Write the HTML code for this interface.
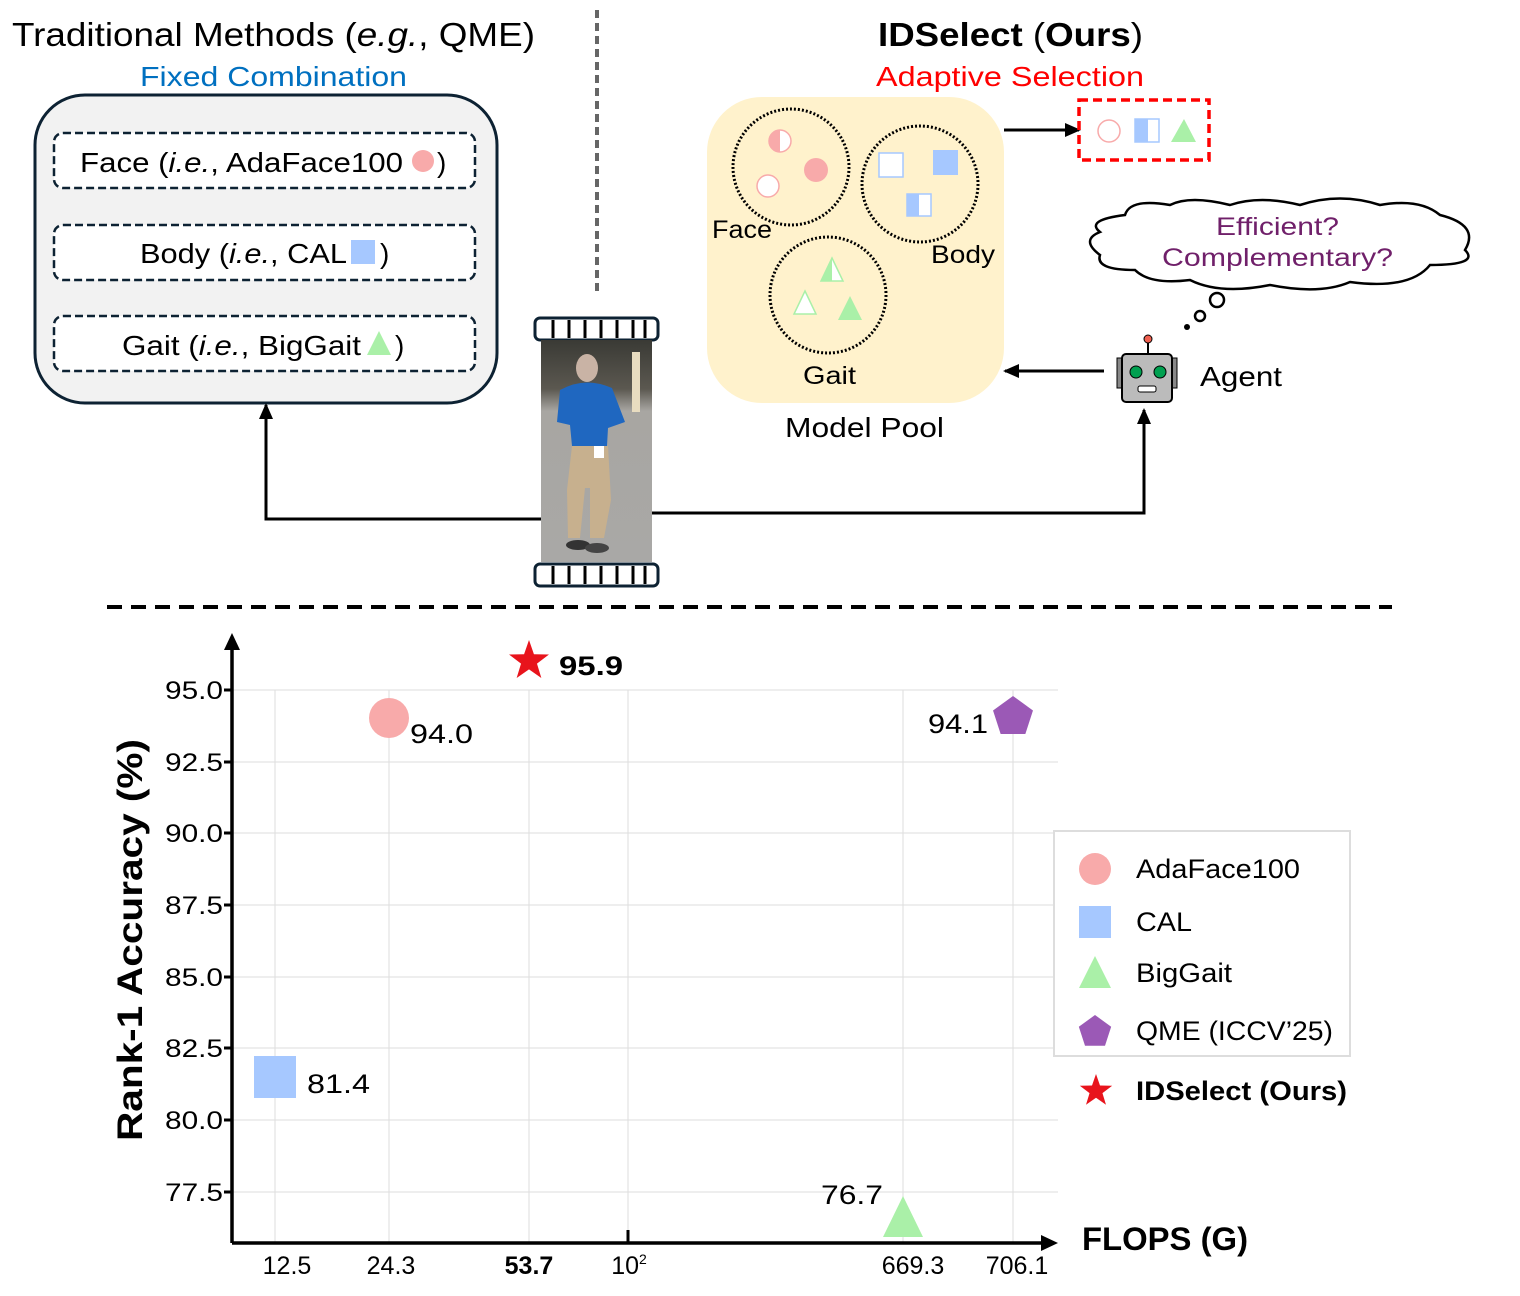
<!DOCTYPE html>
<html><head><meta charset="utf-8"><style>
html,body{margin:0;padding:0;background:#fff}
svg text{font-family:"Liberation Sans","DejaVu Sans",sans-serif}
</style></head><body>
<svg width="1520" height="1291" viewBox="0 0 1520 1291" xmlns="http://www.w3.org/2000/svg">
<defs>
<marker id="ah" markerWidth="18" markerHeight="16" refX="14" refY="8" orient="auto" markerUnits="userSpaceOnUse"><path d="M0,1 L16,8 L0,15 z" fill="#000"/></marker>
<path id="star" d="M0,-1 L0.235,-0.324 L0.951,-0.309 L0.38,0.124 L0.588,0.809 L0,0.4 L-0.588,0.809 L-0.38,0.124 L-0.951,-0.309 L-0.235,-0.324 Z"/>
<path id="pent" d="M0,-1 L0.951,-0.309 L0.588,0.809 L-0.588,0.809 L-0.951,-0.309 Z"/>
<linearGradient id="bg" x1="0" y1="0" x2="0" y2="1"><stop offset="0" stop-color="#3a3a35"/><stop offset="0.22" stop-color="#5b5850"/><stop offset="0.32" stop-color="#a8a6a2"/><stop offset="1" stop-color="#a9a8a6"/></linearGradient>
</defs>

<text x="12" y="46" font-size="33" fill="#000" textLength="523" lengthAdjust="spacingAndGlyphs">Traditional Methods (<tspan font-style="italic">e.g.</tspan>, QME)</text>
<text x="140" y="86" font-size="28" fill="#0070c0" textLength="267" lengthAdjust="spacingAndGlyphs">Fixed Combination</text>
<rect x="35" y="95" width="462" height="308" rx="50" fill="#f2f2f2" stroke="#0d2233" stroke-width="3"/>
<rect x="54" y="133" width="421" height="55" rx="9" fill="#fff" stroke="#0d2233" stroke-width="2.5" stroke-dasharray="8,4"/>
<rect x="54" y="225" width="421" height="55" rx="9" fill="#fff" stroke="#0d2233" stroke-width="2.5" stroke-dasharray="8,4"/>
<rect x="54" y="316" width="421" height="55" rx="9" fill="#fff" stroke="#0d2233" stroke-width="2.5" stroke-dasharray="8,4"/>
<text x="80" y="172" font-size="28" textLength="323" lengthAdjust="spacingAndGlyphs">Face (<tspan font-style="italic">i.e.</tspan>, AdaFace100</text>
<circle cx="423" cy="161" r="11" fill="#f8aaaa"/><text x="437" y="172" font-size="28">)</text>
<text x="140" y="263" font-size="28" textLength="207" lengthAdjust="spacingAndGlyphs">Body (<tspan font-style="italic">i.e.</tspan>, CAL</text>
<rect x="351" y="240" width="24" height="24" fill="#a6c8ff"/><text x="380" y="263" font-size="28">)</text>
<text x="122" y="355" font-size="28" textLength="239" lengthAdjust="spacingAndGlyphs">Gait (<tspan font-style="italic">i.e.</tspan>, BigGait</text>
<polygon points="379,331 391,355 367,355" fill="#aaf0a8"/><text x="395" y="355" font-size="28">)</text>

<line x1="597" y1="10" x2="597" y2="295" stroke="#666" stroke-width="4" stroke-dasharray="8,5"/>

<rect x="535" y="318" width="123" height="22" rx="5" fill="#fff" stroke="#0d2233" stroke-width="3"/>
<rect x="535" y="564" width="123" height="22" rx="5" fill="#fff" stroke="#0d2233" stroke-width="3"/>
<g stroke="#000" stroke-width="3">
<line x1="553" y1="320" x2="553" y2="338"/><line x1="569" y1="320" x2="569" y2="338"/><line x1="585" y1="320" x2="585" y2="338"/><line x1="601" y1="320" x2="601" y2="338"/><line x1="617" y1="320" x2="617" y2="338"/><line x1="633" y1="320" x2="633" y2="338"/><line x1="645" y1="320" x2="645" y2="338"/>
<line x1="553" y1="566" x2="553" y2="584"/><line x1="569" y1="566" x2="569" y2="584"/><line x1="585" y1="566" x2="585" y2="584"/><line x1="601" y1="566" x2="601" y2="584"/><line x1="617" y1="566" x2="617" y2="584"/><line x1="633" y1="566" x2="633" y2="584"/><line x1="645" y1="566" x2="645" y2="584"/>
</g>
<rect x="541" y="340" width="111" height="222" fill="url(#bg)"/>
<rect x="632" y="352" width="8" height="60" fill="#e8dcc0"/>
<ellipse cx="587" cy="368" rx="11" ry="14" fill="#c9b3a5"/>
<path d="M560,390 Q585,376 612,388 L625,422 L608,428 L607,446 L572,446 L570,425 L557,422 Z" fill="#1f67c0"/>
<path d="M572,446 L608,446 L611,500 L604,538 L590,538 L590,488 L585,488 L580,538 L568,538 L567,490 Z" fill="#c7b08e"/>
<rect x="594" y="446" width="10" height="12" fill="#fff"/>
<ellipse cx="578" cy="545" rx="12" ry="5" fill="#333"/><ellipse cx="597" cy="548" rx="12" ry="5" fill="#444"/>

<polyline points="541,519 266,519 266,405" fill="none" stroke="#000" stroke-width="3" marker-end="url(#ah)"/>
<polyline points="652,513 1144,513 1144,410" fill="none" stroke="#000" stroke-width="3" marker-end="url(#ah)"/>

<text x="878" y="46" font-size="33" textLength="265" lengthAdjust="spacingAndGlyphs"><tspan font-weight="bold">IDSelect</tspan> (<tspan font-weight="bold">Ours</tspan>)</text>
<text x="876" y="86" font-size="28" fill="#ff0000" textLength="268" lengthAdjust="spacingAndGlyphs">Adaptive Selection</text>
<rect x="707" y="97" width="297" height="306" rx="55" fill="#fff2cc"/>
<g fill="none" stroke="#000" stroke-width="3" stroke-dasharray="2,2">
<circle cx="791" cy="167" r="58"/><circle cx="920" cy="184" r="58"/><circle cx="828" cy="295" r="58"/>
</g>
<circle cx="780" cy="141" r="11" fill="#fff" stroke="#f8aaaa" stroke-width="1.5"/><path d="M780,130 A11,11 0 0,0 780,152 Z" fill="#f8aaaa"/>
<circle cx="816" cy="170" r="12" fill="#f8aaaa"/>
<circle cx="768" cy="186" r="11" fill="#fff" stroke="#f8aaaa" stroke-width="1.5"/>
<rect x="879" y="153" width="24" height="24" fill="#fff" stroke="#a6c8ff" stroke-width="1.5"/>
<rect x="933" y="150" width="25" height="25" fill="#a6c8ff"/>
<rect x="907" y="194" width="24" height="22" fill="#fff" stroke="#a6c8ff" stroke-width="1.5"/><rect x="907" y="194" width="12" height="22" fill="#a6c8ff"/>
<polygon points="832,258 843,281 821,281" fill="#fff" stroke="#aaf0a8" stroke-width="1.5"/><polygon points="832,258 832,281 821,281" fill="#aaf0a8"/>
<polygon points="805,291 816,314 794,314" fill="#fff" stroke="#aaf0a8" stroke-width="1.5"/>
<polygon points="850,296 862,320 838,320" fill="#aaf0a8"/>
<text x="712" y="238" font-size="25" textLength="60" lengthAdjust="spacingAndGlyphs">Face</text>
<text x="931" y="263" font-size="25" textLength="64" lengthAdjust="spacingAndGlyphs">Body</text>
<text x="803" y="384" font-size="25" textLength="53" lengthAdjust="spacingAndGlyphs">Gait</text>
<text x="785" y="437" font-size="28" textLength="159" lengthAdjust="spacingAndGlyphs">Model Pool</text>
<line x1="1004" y1="130" x2="1079" y2="130" stroke="#000" stroke-width="3" marker-end="url(#ah)"/>
<rect x="1079" y="100" width="130" height="60" fill="none" stroke="#ff0000" stroke-width="3.5" stroke-dasharray="9,5"/>
<circle cx="1109" cy="131" r="11" fill="none" stroke="#f8aaaa" stroke-width="1.5"/>
<rect x="1135" y="119" width="24" height="23" fill="#fff" stroke="#a6c8ff" stroke-width="1.5"/><rect x="1135" y="119" width="13" height="23" fill="#a6c8ff"/>
<polygon points="1184,119 1196,142 1171,142" fill="#aaf0a8"/>
<path d="M1125,215 Q1130,198 1170,205 Q1190,195 1230,205 Q1260,195 1300,205 Q1340,192 1380,205 Q1420,198 1440,215 Q1480,225 1465,250 Q1480,265 1430,265 Q1410,290 1350,282 Q1320,295 1270,285 Q1220,295 1190,280 Q1150,285 1135,270 Q1095,270 1100,255 Q1080,240 1100,232 Q1085,220 1125,215 Z" fill="#fff" stroke="#000" stroke-width="2.5"/>
<text x="1216" y="235" font-size="25" fill="#70206a" textLength="123" lengthAdjust="spacingAndGlyphs">Efficient?</text>
<text x="1162" y="266" font-size="25" fill="#70206a" textLength="231" lengthAdjust="spacingAndGlyphs">Complementary?</text>
<circle cx="1217" cy="300" r="7" fill="#fff" stroke="#000" stroke-width="2.5"/>
<circle cx="1200" cy="316" r="5" fill="#fff" stroke="#000" stroke-width="2.5"/>
<circle cx="1187" cy="327" r="3" fill="#000"/>
<line x1="1148" y1="340" x2="1148" y2="355" stroke="#000" stroke-width="2"/>
<circle cx="1148" cy="339" r="4" fill="#f06050" stroke="#000" stroke-width="1"/>
<rect x="1117" y="358" width="6" height="30" fill="#888" stroke="#000"/><rect x="1171" y="358" width="6" height="30" fill="#888" stroke="#000"/>
<rect x="1122" y="354" width="50" height="48" rx="4" fill="#bbb" stroke="#000" stroke-width="2"/>
<circle cx="1136" cy="372" r="6" fill="#00a050" stroke="#000"/><circle cx="1160" cy="372" r="6" fill="#00a050" stroke="#000"/>
<rect x="1138" y="386" width="18" height="6" rx="2" fill="#fff" stroke="#000"/>
<text x="1200" y="386" font-size="28" textLength="82" lengthAdjust="spacingAndGlyphs">Agent</text>
<line x1="1104" y1="371" x2="1005" y2="371" stroke="#000" stroke-width="3" marker-end="url(#ah)"/>

<line x1="107" y1="607" x2="1392" y2="607" stroke="#000" stroke-width="4" stroke-dasharray="15,9"/>

<g stroke="#ddd" stroke-width="1">
<line x1="232" y1="690" x2="1058" y2="690"/><line x1="232" y1="762" x2="1058" y2="762"/><line x1="232" y1="833" x2="1058" y2="833"/><line x1="232" y1="905" x2="1058" y2="905"/><line x1="232" y1="977" x2="1058" y2="977"/><line x1="232" y1="1048" x2="1058" y2="1048"/><line x1="232" y1="1120" x2="1058" y2="1120"/><line x1="232" y1="1192" x2="1058" y2="1192"/>
<line x1="275" y1="690" x2="275" y2="1243"/><line x1="389" y1="690" x2="389" y2="1243"/><line x1="529" y1="690" x2="529" y2="1243"/><line x1="628" y1="690" x2="628" y2="1243"/><line x1="903" y1="690" x2="903" y2="1243"/><line x1="1013" y1="690" x2="1013" y2="1243"/>
</g>
<line x1="232" y1="1243" x2="232" y2="645" stroke="#000" stroke-width="3.5"/>
<polygon points="232,633 224,650 240,650" fill="#000"/>
<line x1="232" y1="1243" x2="1045" y2="1243" stroke="#000" stroke-width="3.5"/>
<polygon points="1058,1243 1041,1235 1041,1251" fill="#000"/>
<g stroke="#000" stroke-width="3"><line x1="224" y1="690" x2="232" y2="690"/><line x1="224" y1="762" x2="232" y2="762"/><line x1="224" y1="833" x2="232" y2="833"/><line x1="224" y1="905" x2="232" y2="905"/><line x1="224" y1="977" x2="232" y2="977"/><line x1="224" y1="1048" x2="232" y2="1048"/><line x1="224" y1="1120" x2="232" y2="1120"/><line x1="224" y1="1192" x2="232" y2="1192"/><line x1="628" y1="1230" x2="628" y2="1243"/></g>
<g font-size="25">
<text x="165" y="699" textLength="58" lengthAdjust="spacingAndGlyphs">95.0</text><text x="165" y="771" textLength="58" lengthAdjust="spacingAndGlyphs">92.5</text><text x="165" y="842" textLength="58" lengthAdjust="spacingAndGlyphs">90.0</text><text x="165" y="914" textLength="58" lengthAdjust="spacingAndGlyphs">87.5</text><text x="165" y="986" textLength="58" lengthAdjust="spacingAndGlyphs">85.0</text><text x="165" y="1057" textLength="58" lengthAdjust="spacingAndGlyphs">82.5</text><text x="165" y="1129" textLength="58" lengthAdjust="spacingAndGlyphs">80.0</text><text x="165" y="1201" textLength="58" lengthAdjust="spacingAndGlyphs">77.5</text>
</g>
<g font-size="25" text-anchor="middle">
<text x="287" y="1274">12.5</text><text x="391" y="1274">24.3</text><text x="529" y="1274" font-weight="bold">53.7</text><text x="629" y="1274">10<tspan font-size="14" dy="-10">2</tspan></text><text x="913" y="1274">669.3</text><text x="1017" y="1274">706.1</text>
</g>
<text x="142" y="940" font-size="35" font-weight="bold" text-anchor="middle" transform="rotate(-90 142 940)" textLength="402" lengthAdjust="spacingAndGlyphs">Rank-1 Accuracy (%)</text>
<text x="1082" y="1250" font-size="32" font-weight="bold" textLength="166" lengthAdjust="spacingAndGlyphs">FLOPS (G)</text>

<rect x="254" y="1056" width="42" height="42" fill="#a6c8ff"/>
<text x="307" y="1093" font-size="27" textLength="63" lengthAdjust="spacingAndGlyphs">81.4</text>
<circle cx="389" cy="718" r="20" fill="#f8aaaa"/>
<text x="410" y="743" font-size="27" textLength="63" lengthAdjust="spacingAndGlyphs">94.0</text>
<use href="#star" transform="translate(529,661) scale(21)" fill="#e8141c"/>
<text x="559" y="675" font-size="27" font-weight="bold" textLength="64" lengthAdjust="spacingAndGlyphs">95.9</text>
<use href="#pent" transform="translate(1013,717) scale(21)" fill="#9b59b6"/>
<text x="928" y="733" font-size="27" textLength="60" lengthAdjust="spacingAndGlyphs">94.1</text>
<polygon points="903,1196 923,1237 883,1237" fill="#aaf0a8"/>
<text x="821" y="1204" font-size="27" textLength="62" lengthAdjust="spacingAndGlyphs">76.7</text>

<rect x="1054" y="831" width="296" height="225" fill="#fff" stroke="#ddd" stroke-width="2"/>
<circle cx="1095" cy="869" r="16" fill="#f8aaaa"/>
<rect x="1079" y="906" width="32" height="32" fill="#a6c8ff"/>
<polygon points="1095,956 1111,988 1079,988" fill="#aaf0a8"/>
<use href="#pent" transform="translate(1095,1032) scale(17)" fill="#9b59b6"/>
<use href="#star" transform="translate(1096,1091) scale(17)" fill="#e8141c"/>
<g font-size="27"><text x="1136" y="878" textLength="164" lengthAdjust="spacingAndGlyphs">AdaFace100</text><text x="1136" y="931" textLength="56" lengthAdjust="spacingAndGlyphs">CAL</text><text x="1136" y="982" textLength="96" lengthAdjust="spacingAndGlyphs">BigGait</text><text x="1136" y="1040" textLength="197" lengthAdjust="spacingAndGlyphs">QME (ICCV’25)</text><text x="1136" y="1100" font-weight="bold" textLength="211" lengthAdjust="spacingAndGlyphs">IDSelect (Ours)</text></g>
</svg>
</body></html>
